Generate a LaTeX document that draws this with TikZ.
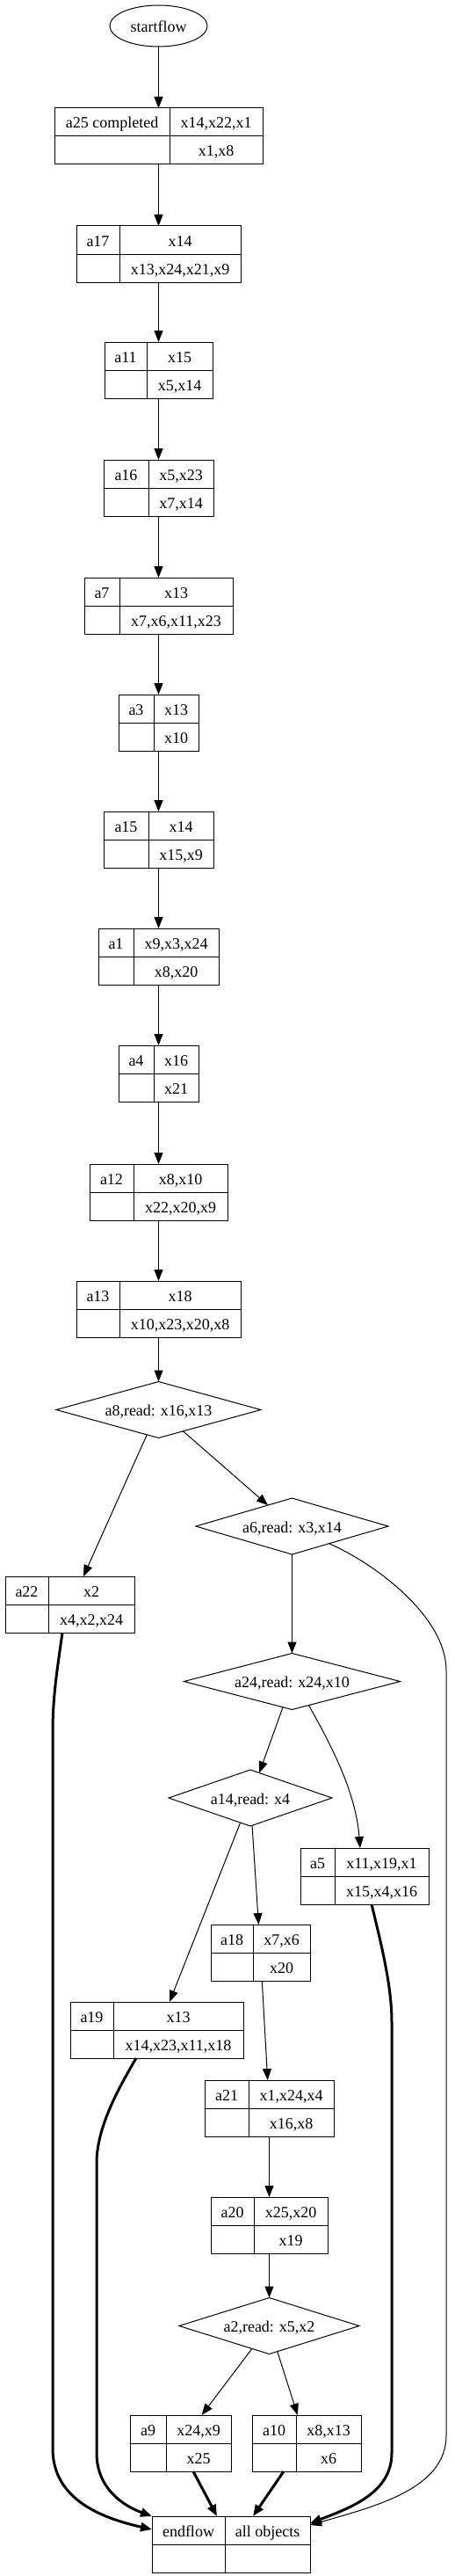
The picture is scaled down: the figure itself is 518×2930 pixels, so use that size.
\documentclass[tikz,border=0pt]{standalone}
\usepackage{fontspec}
\setmainfont{Liberation Serif}
\usetikzlibrary{arrows.meta, shapes.geometric}
% record: name, left, divider, right, top, label, upper, lower
\newcommand{\actrec}[8]{%
  \node[recbox, minimum width={(#4)-(#2)}] (#1) at ({((#2)+(#4))/2},{(#5)+32}) {};
  \draw[recline] (#1.west) -- (#1.east);
  \draw[recline] (#3,#5) -- (#3,{(#5)+64});
  \node[cell] (#1l) at ({((#2)+(#3))/2},{(#5)+16}) {#6};
  \node[cell] (#1u) at ({((#3)+(#4))/2},{(#5)+16}) {#7};
  \node[cell] (#1d) at ({((#3)+(#4))/2},{(#5)+48}) {#8};
}
\tikzset{
  recbox/.style  ={draw, rectangle, minimum height=64pt, inner sep=0pt, outer sep=0pt, line width=1pt},
  recline/.style ={line width=1pt},
  cell/.style    ={inner sep=0pt, font=\fontsize{18}{20}\selectfont, text height=16pt, text depth=2pt},
  startv/.style  ={draw, ellipse, minimum width=111pt, minimum height=47pt, inner sep=0pt, outer sep=0pt,
                   line width=1pt, font=\fontsize{18}{20}\selectfont, text height=16pt, text depth=2pt},
  readv/.style   ={draw, diamond, aspect=3.6, minimum height=64pt, inner sep=0pt, outer sep=0pt,
                   line width=1pt, font=\fontsize{18}{20}\selectfont, text height=16pt, text depth=2pt},
  flow/.style    ={-{Triangle[length=13pt, width=10pt]}, line width=1pt},        % control flow
  doneflow/.style={-{Triangle[length=13pt, width=10pt]}, line width=3pt},        % into endflow
}
\begin{document}
\begin{tikzpicture}[x=1pt, y=-1pt]
  \useasboundingbox (0,0) rectangle (518,2930);

  % --- start ---
  \node[startv] (startflow) at (180.5,29.5) {startflow};

  % --- main chain ---
  \actrec{a25}{62}{193}{299}{123}{a25 completed}{x14,x22,x1}{x1,x8}
  \actrec{a17}{87}{136}{274}{257}{a17}{x14}{x13,x24,x21,x9}
  \actrec{a11}{119}{167}{242}{389}{a11}{x15}{x5,x14}
  \actrec{a16}{118}{169}{243}{523}{a16}{x5,x23}{x7,x14}
  \actrec{a7}{96}{136}{265}{657}{a7}{x13}{x7,x6,x11,x23}
  \actrec{a3}{135}{175}{226}{790}{a3}{x13}{x10}
  \actrec{a15}{118}{169}{243}{923}{a15}{x14}{x15,x9}
  \actrec{a1}{112}{152}{249}{1056}{a1}{x9,x3,x24}{x8,x20}
  \actrec{a4}{135}{175}{226}{1189}{a4}{x16}{x21}
  \actrec{a12}{102}{152}{259}{1324}{a12}{x8,x10}{x22,x20,x9}
  \actrec{a13}{87}{136}{274}{1457}{a13}{x18}{x10,x23,x20,x8}

  % --- reads ---
  \node[readv, minimum width=233pt] (a8)  at (180.5,1603.5) {a8,read: x16,x13};
  \node[readv, minimum width=219pt] (a6)  at (332.5,1736)   {a6,read: x3,x14};
  \node[readv, minimum width=246pt] (a24) at (332.5,1912.5) {a24,read: x24,x10};
  \node[readv, minimum width=186pt] (a14) at (285,2045)     {a14,read: x4};
  \node[readv, minimum width=205pt] (a2)  at (306.5,2645.5) {a2,read: x5,x2};

  % --- branches ---
  \actrec{a22}{6}{55}{153}{1793}{a22}{x2}{x4,x2,x24}
  \actrec{a5}{342}{381}{488}{2102}{a5}{x11,x19,x1}{x15,x4,x16}
  \actrec{a18}{240}{288}{353}{2189}{a18}{x7,x6}{x20}
  \actrec{a19}{80}{129}{277}{2277}{a19}{x13}{x14,x23,x11,x18}
  \actrec{a21}{233}{283}{380}{2366}{a21}{x1,x24,x4}{x16,x8}
  \actrec{a20}{240}{289}{373}{2499}{a20}{x25,x20}{x19}
  \actrec{a9}{148}{189}{263}{2747}{a9}{x24,x9}{x25}
  \actrec{a10}{287}{337}{411}{2747}{a10}{x8,x13}{x6}

  % --- end ---
  \actrec{endflow}{173}{256}{353}{2862}{endflow}{all objects}{}

  % --- edges ---
  \foreach \u/\v in {startflow/a25, a25/a17, a17/a11, a11/a16, a16/a7, a7/a3, a3/a15,
                     a15/a1, a1/a4, a4/a12, a12/a13, a13/a8, a8/a6, a6/a24, a24/a14,
                     a14/a18, a18/a21, a21/a20, a20/a2, a2/a9, a2/a10}
    \draw[flow] (\u) -- (\v);
  \draw[flow] (a8.-115) -- ([xshift=15.5pt]a22.north);
  \draw[flow] (a14.-112) -- ([xshift=14.5pt]a19.north);
  \draw[flow] (a24.-55) .. controls (380,1990) and (405,2040) .. ([xshift=-5pt]a5.north);
  \draw[flow] (a6.-25) .. controls (430,1780) and (508,1840) .. (508,1900)
    -- (508,2770) .. controls (508,2830) and (430,2850) .. ([yshift=-10pt]endflow.north east);

  \draw[doneflow] ([xshift=-8.5pt]a22.south) .. controls (65,1900) and (60,1930) .. (60,1970)
    -- (60,2785) .. controls (60,2845) and (120,2865) .. ([yshift=-15pt]endflow.north west);
  \draw[doneflow] ([xshift=-23.5pt]a19.south) .. controls (135,2375) and (110,2420) .. (110,2460)
    -- (110,2790) .. controls (110,2830) and (140,2850) .. (endflow.north west);
  \draw[doneflow] ([xshift=8pt]a5.south) .. controls (435,2215) and (446,2260) .. (446,2300)
    -- (446,2790) .. controls (446,2835) and (400,2852) .. ([yshift=-8pt]endflow.north east);
  \draw[doneflow] ([xshift=14.5pt]a9.south) -- ([xshift=-16pt]endflow.north);
  \draw[doneflow] ([xshift=-26pt]a10.south) -- ([xshift=25pt]endflow.north);
\end{tikzpicture}
\end{document}
